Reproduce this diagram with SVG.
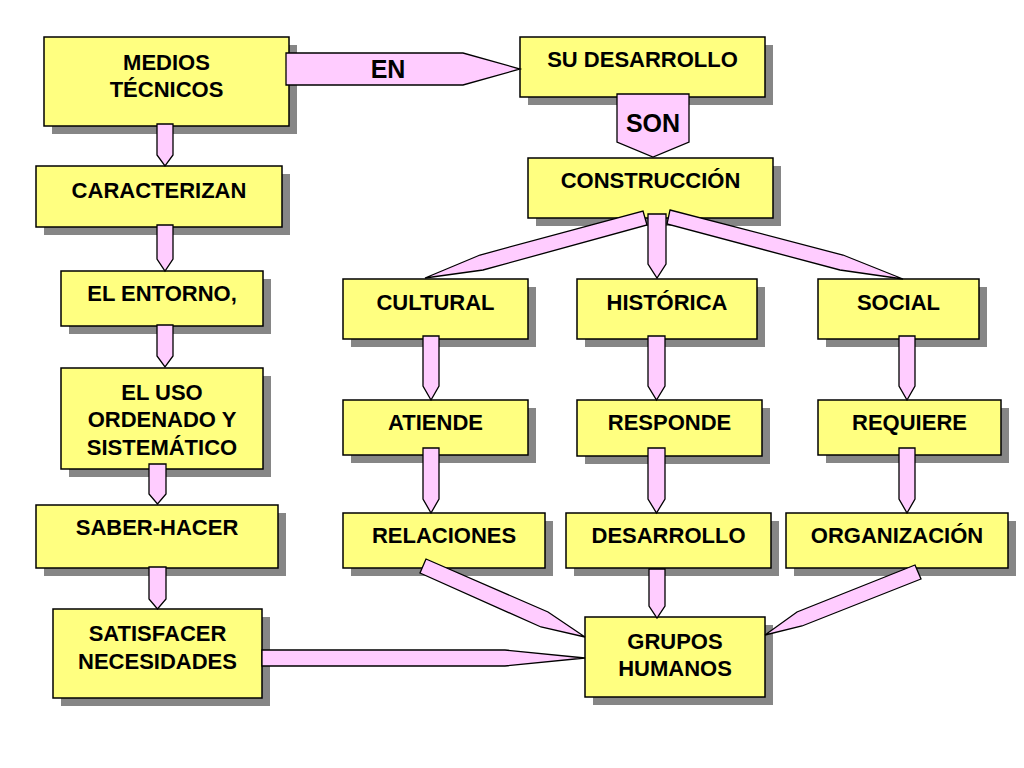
<svg xmlns="http://www.w3.org/2000/svg" width="1024" height="768" viewBox="0 0 1024 768">
<style>
.bx{fill:#FFFF80;stroke:#000;stroke-width:1.5}
.sh{fill:#868686}
.ar{fill:#FFCCFF;stroke:#000;stroke-width:1.3;stroke-linejoin:miter}
.t{font-family:"Liberation Sans",Arial,sans-serif;font-weight:bold;font-size:22px;text-anchor:middle;fill:#000}
.tb{font-family:"Liberation Sans",Arial,sans-serif;font-weight:bold;font-size:25px;text-anchor:middle;fill:#000}
</style>
<rect width="1024" height="768" fill="#fff"/>
<g id="medios"><rect class="sh" x="52" y="45" width="245" height="89"/><rect class="bx" x="44" y="37" width="245" height="89"/><text class="t" x="166.5" y="70">MEDIOS</text><text class="t" x="166.5" y="97">TÉCNICOS</text></g>
<g id="su_desarrollo"><rect class="sh" x="528" y="45" width="245" height="60"/><rect class="bx" x="520" y="37" width="245" height="60"/><text class="t" x="642.5" y="67">SU DESARROLLO</text></g>
<g id="construccion"><rect class="sh" x="536" y="166" width="245" height="60"/><rect class="bx" x="528" y="158" width="245" height="60"/><text class="t" x="650.5" y="188">CONSTRUCCIÓN</text></g>
<g id="caracterizan"><rect class="sh" x="44" y="174" width="246" height="61"/><rect class="bx" x="36" y="166" width="246" height="61"/><text class="t" x="159" y="198">CARACTERIZAN</text></g>
<g id="entorno"><rect class="sh" x="69" y="279" width="202" height="55"/><rect class="bx" x="61" y="271" width="202" height="55"/><text class="t" x="162" y="301">EL ENTORNO,</text></g>
<g id="uso"><rect class="sh" x="69" y="376" width="202" height="101"/><rect class="bx" x="61" y="368" width="202" height="101"/><text class="t" x="162" y="400">EL USO</text><text class="t" x="162" y="427">ORDENADO Y</text><text class="t" x="162" y="455">SISTEMÁTICO</text></g>
<g id="saber_hacer"><rect class="sh" x="44" y="513" width="242" height="63"/><rect class="bx" x="36" y="505" width="242" height="63"/><text class="t" x="157" y="535">SABER-HACER</text></g>
<g id="satisfacer"><rect class="sh" x="61" y="617" width="209" height="89"/><rect class="bx" x="53" y="609" width="209" height="89"/><text class="t" x="157.5" y="641">SATISFACER</text><text class="t" x="157.5" y="669">NECESIDADES</text></g>
<g id="cultural"><rect class="sh" x="351" y="287" width="185" height="60"/><rect class="bx" x="343" y="279" width="185" height="60"/><text class="t" x="435.5" y="310">CULTURAL</text></g>
<g id="historica"><rect class="sh" x="585" y="287" width="180" height="60"/><rect class="bx" x="577" y="279" width="180" height="60"/><text class="t" x="667" y="310">HISTÓRICA</text></g>
<g id="social"><rect class="sh" x="826" y="287" width="161" height="60"/><rect class="bx" x="818" y="279" width="161" height="60"/><text class="t" x="898.5" y="310">SOCIAL</text></g>
<g id="atiende"><rect class="sh" x="351" y="408" width="185" height="55"/><rect class="bx" x="343" y="400" width="185" height="55"/><text class="t" x="435.5" y="430">ATIENDE</text></g>
<g id="responde"><rect class="sh" x="585" y="408" width="185" height="56"/><rect class="bx" x="577" y="400" width="185" height="56"/><text class="t" x="669.5" y="430">RESPONDE</text></g>
<g id="requiere"><rect class="sh" x="826" y="408" width="183" height="55"/><rect class="bx" x="818" y="400" width="183" height="55"/><text class="t" x="909.5" y="430">REQUIERE</text></g>
<g id="relaciones"><rect class="sh" x="351" y="521" width="202" height="55"/><rect class="bx" x="343" y="513" width="202" height="55"/><text class="t" x="444" y="543">RELACIONES</text></g>
<g id="desarrollo"><rect class="sh" x="574" y="521" width="205" height="55"/><rect class="bx" x="566" y="513" width="205" height="55"/><text class="t" x="668.5" y="543">DESARROLLO</text></g>
<g id="organizacion"><rect class="sh" x="794" y="521" width="222" height="55"/><rect class="bx" x="786" y="513" width="222" height="55"/><text class="t" x="897" y="543">ORGANIZACIÓN</text></g>
<g id="grupos"><rect class="sh" x="593" y="625" width="180" height="80"/><rect class="bx" x="585" y="617" width="180" height="80"/><text class="t" x="675" y="649">GRUPOS</text><text class="t" x="675" y="676">HUMANOS</text></g>
<g id="connectors">
<polygon class="ar" points="286,53 463,53 520,69 463,85 286,85"/>
<text class="tb" x="388" y="78">EN</text>
<polygon class="ar" points="617,94 689,94 689,142 653,157 617,142"/>
<text class="tb" x="653" y="132">SON</text>
<polygon class="ar" points="157,124 173,124 173,155 165,166 157,155"/>
<polygon class="ar" points="157,225 173,225 173,259 165,271 157,259"/>
<polygon class="ar" points="157,325 173,325 173,356 165,367 157,356"/>
<polygon class="ar" points="149,464 166,464 166,494 157.5,504 149,494"/>
<polygon class="ar" points="149,567 166,567 166,599 157.5,609 149,599"/>
<polygon class="ar" points="648,214 666,214 666,264 657,278 648,264"/>
<polygon class="ar" points="423,336 439,336 439,386 431,400 423,386"/>
<polygon class="ar" points="423,448 439,448 439,499 431,513 423,499"/>
<polygon class="ar" points="648,336 665,336 665,386 656.5,400 648,386"/>
<polygon class="ar" points="648,448 665,448 665,499 656.5,513 648,499"/>
<polygon class="ar" points="899,336 915,336 915,386 907,400 899,386"/>
<polygon class="ar" points="899,448 915,448 915,499 907,513 899,499"/>
<polygon class="ar" points="649,569 665,569 665,606 657,618 649,606"/>
<polygon class="ar" points="643,211 647,225 483,270 425,278 480,255"/>
<polygon class="ar" points="670,210 843,255 903,279 840,270 667,224"/>
<polygon class="ar" points="426,559 548,612 585,637 541,627 420,573"/>
<polygon class="ar" points="915,565 921,579 802,626 765,635 797,612"/>
<polygon class="ar" points="262,650 505,650 585,658 505,666 262,666"/>
</g>
</svg>
